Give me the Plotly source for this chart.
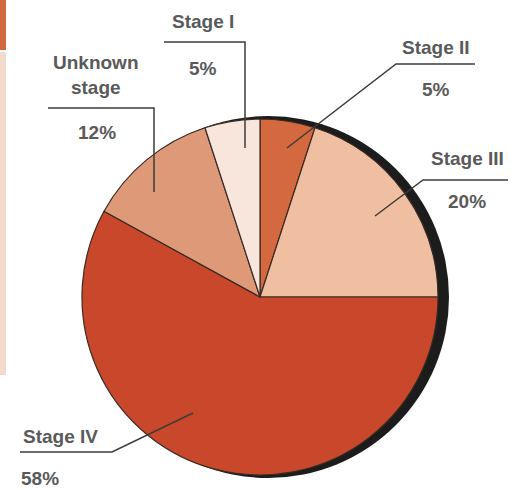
import plotly.graph_objects as go

W, H = 522, 490

# data, clockwise from 12 o'clock
stages = ["Stage II", "Stage III", "Stage IV", "Unknown stage", "Stage I"]
shares = [5, 20, 58, 12, 5]
colors = ["#D4683F", "#F0BFA2", "#C9472A", "#DE9A78", "#F8E6DD"]
pct_text = ["5%", "20%", "58%", "12%", "5%"]
name_text = ["Stage II", "Stage III", "Stage IV", "Unknown<br>stage", "Stage I"]


def px_x(x):
    return x / W


def px_y(y):
    return 1 - y / H


def circle_domain(cx, cy, r):
    return dict(x=[px_x(cx - r), px_x(cx + r)], y=[px_y(cy + r), px_y(cy - r)])


# label layout (pixels): name position, pct position, leader polyline
label_pos = {
    "Stage II": dict(name=(436, 47), pct=(436, 90), line=[(287, 148), (396, 64), (475, 64)]),
    "Stage III": dict(name=(467, 158), pct=(467, 201), line=[(375, 216), (423, 180), (508, 180)]),
    "Stage IV": dict(name=(60, 436), pct=(40, 478), line=[(193, 413), (112, 452), (20, 452)]),
    "Unknown stage": dict(name=(96, 75), pct=(97, 132), line=[(154, 192), (154, 108), (48, 108)]),
    "Stage I": dict(name=(203, 22), pct=(203, 68), line=[(245, 148), (245, 42), (164, 42)]),
}

fig = go.Figure()

# shadow behind the pie
fig.add_trace(go.Pie(
    values=[1], marker=dict(colors=["#1c1c1c"], line=dict(width=0)),
    domain=circle_domain(268, 297, 181), textinfo="none",
    hoverinfo="skip", showlegend=False, sort=False,
))

fig.add_trace(go.Pie(
    labels=stages, values=shares, sort=False, direction="clockwise", rotation=0,
    marker=dict(colors=colors, line=dict(color="#3a2a24", width=1.2)),
    domain=circle_domain(260, 297, 178), textinfo="none", showlegend=False,
))

font = dict(family="Liberation Sans, Arial, sans-serif", size=19, color="#5a5a5a")
shapes = []
annotations = []
for stage, name, pct in zip(stages, name_text, pct_text):
    pos = label_pos[stage]
    annotations.append(dict(x=px_x(pos["name"][0]), y=px_y(pos["name"][1]), xref="paper", yref="paper",
                            text="<b>%s</b>" % name, showarrow=False, font=font,
                            xanchor="center", yanchor="middle"))
    annotations.append(dict(x=px_x(pos["pct"][0]), y=px_y(pos["pct"][1]), xref="paper", yref="paper",
                            text="<b>%s</b>" % pct, showarrow=False, font=font,
                            xanchor="center", yanchor="middle"))
    pts = pos["line"]
    path = "M %f,%f " % (px_x(pts[0][0]), px_y(pts[0][1]))
    path += " ".join("L %f,%f" % (px_x(x), px_y(y)) for x, y in pts[1:])
    shapes.append(dict(type="path", path=path, xref="paper", yref="paper",
                       line=dict(color="#3c3c3c", width=1.5)))

# scanned page edge strip on the left
shapes.append(dict(type="rect", xref="paper", yref="paper", x0=0, x1=px_x(6), y0=px_y(50), y1=1,
                   fillcolor="#D0693F", line_width=0, layer="below"))
shapes.append(dict(type="rect", xref="paper", yref="paper", x0=0, x1=px_x(6), y0=px_y(375), y1=px_y(52),
                   fillcolor="#F3DACD", line_width=0, layer="below"))

fig.update_layout(
    width=W, height=H,
    margin=dict(l=0, r=0, t=0, b=0),
    paper_bgcolor="#FFFFFF",
    plot_bgcolor="#FFFFFF",
    shapes=shapes,
    annotations=annotations,
)

fig.write_html("out.html", config={"displayModeBar": False},
               post_script="document.body.style.margin='0px';document.body.style.overflow='hidden';")
